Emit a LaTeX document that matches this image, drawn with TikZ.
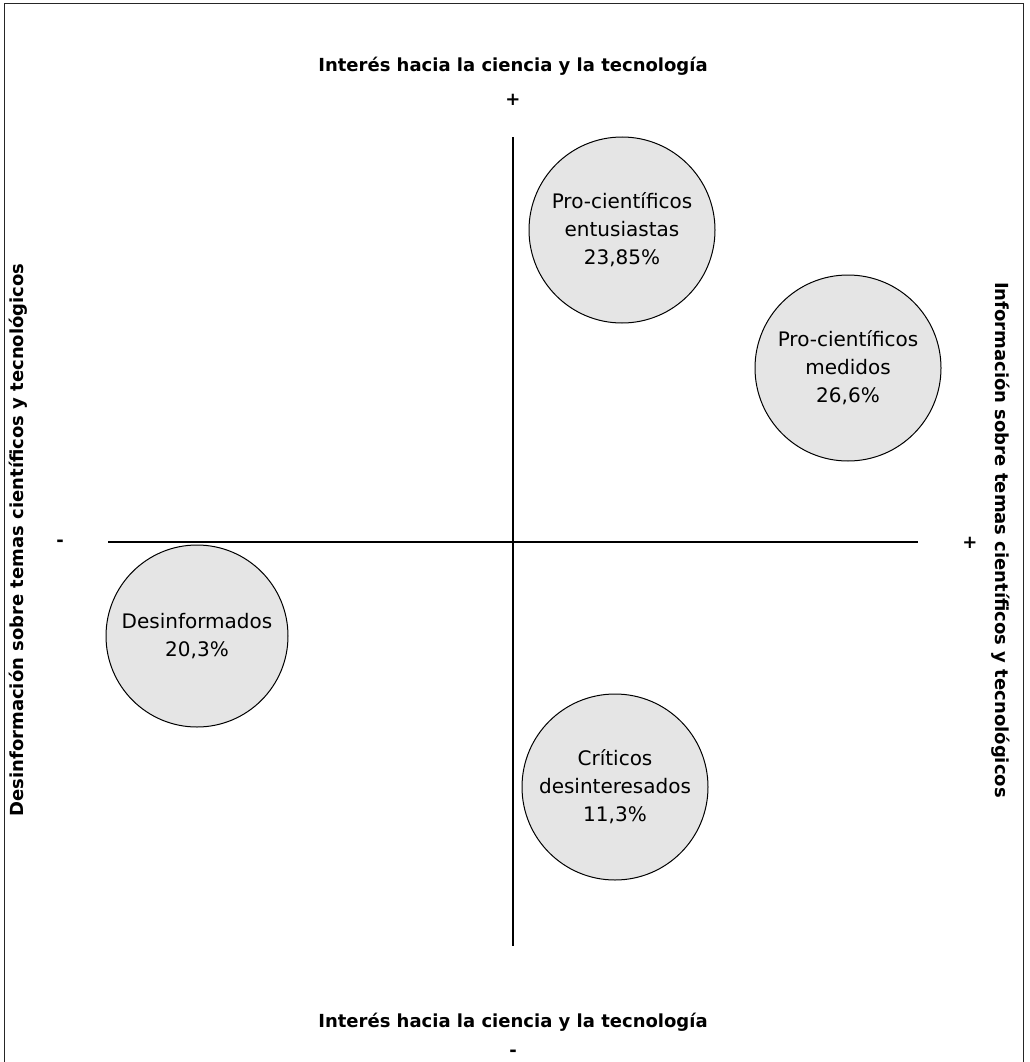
\documentclass[tikz,border=0pt]{standalone}
\usepackage{fontspec}
\setmainfont{DejaVu Sans}
\begin{document}
\begin{tikzpicture}[x=1pt,y=-1pt,
  grp/.style={circle,draw=black,line width=1pt,fill=gray!20,minimum size=186pt,inner sep=0pt,align=center,font=\fontsize{20}{28}\selectfont},
  axlabel/.style={font=\bfseries\fontsize{18}{21}\selectfont,inner sep=0pt},
  sign/.style={font=\bfseries\fontsize{18}{21}\selectfont,inner sep=0pt}]
\useasboundingbox (0,0) rectangle (1029,1062);
\begin{scope}
\clip (0,0) rectangle (1029,1062);
\draw[line width=1.5pt,black!85] (4.5,3.5) rectangle (1023.5,1066);
\end{scope}
\coordinate (hl) at (108,542);
\coordinate (hr) at (918,542);
\coordinate (vt) at (513,137);
\coordinate (vb) at (513,946);
\draw[line width=1.1pt] (hl) -- (hr);
\draw[line width=1.1pt] (vt) -- (vb);
\node[axlabel] (top) at (513,66) {Interés hacia la ciencia y la tecnología};
\node[sign] (topsign) at (513,100) {+};
\node[axlabel] (bot) at (513,1022) {Interés hacia la ciencia y la tecnología};
\node[sign] (botsign) at (513,1053) {-};
\node[axlabel,rotate=90] (left) at (18,540) {Desinformación sobre temas científicos y tecnológicos};
\node[sign] (leftsign) at (60,543) {-};
\node[axlabel,rotate=-90] (right) at (1001,540) {Información sobre temas científicos y tecnológicos};
\node[sign] (rightsign) at (970,543) {+};
\node[grp] (ent) at (622,230) {Pro-científicos\\entusiastas\\23,85\%};
\node[grp] (med) at (848,368) {Pro-científicos\\medidos\\26,6\%};
\node[grp,minimum size=182pt] (des) at (197,636) {Desinformados\\20,3\%};
\node[grp] (cri) at (615,787) {Críticos\\desinteresados\\11,3\%};
\end{tikzpicture}
\end{document}
